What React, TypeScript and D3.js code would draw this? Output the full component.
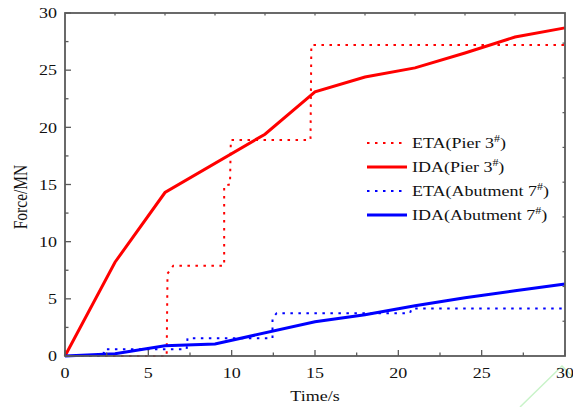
import React from "react";
import * as d3 from "d3";

const etaPierT = [0, 6.1, 6.15, 6.5, 9.55, 9.55, 9.9, 9.95, 14.73, 14.78, 30];
const etaPierV = [0, 0, 7.2, 7.9, 7.9, 14.9, 15.0, 18.9, 18.9, 27.2, 27.2];
const idaPierT = [0, 3, 6, 12, 15, 18, 21, 24, 27, 30];
const idaPierV = [0, 8.2, 14.3, 19.4, 23.1, 24.4, 25.2, 26.5, 27.9, 28.7];
const etaAbutT = [0, 2.3, 2.35, 7.3, 7.35, 12.45, 12.45, 12.7, 20.7, 20.8, 30];
const etaAbutV = [0, 0, 0.6, 0.6, 1.55, 1.55, 3.3, 3.75, 3.75, 4.15, 4.15];
const idaAbutT = [0, 3, 6, 9, 15, 18, 21, 24, 27, 30];
const idaAbutV = [0, 0.2, 0.9, 1.05, 3.0, 3.6, 4.4, 5.1, 5.7, 6.3];

const xTicks = [0, 5, 10, 15, 20, 25, 30];
const yTicks = [0, 5, 10, 15, 20, 25, 30];
const legendNames = ["ETA(Pier 3", "IDA(Pier 3", "ETA(Abutment 7", "IDA(Abutment 7"];

const W = 573, H = 407;
const M = { left: 65, right: 565, top: 13, bottom: 356 };
const FONT = "'Liberation Serif', 'Times New Roman', serif";
const SX = 1.2;

export default function App() {
  const x = d3.scaleLinear().domain([0, 30]).range([M.left, M.right]);
  const y = d3.scaleLinear().domain([0, 30]).range([M.bottom, M.top]);
  const yRight = d3.scaleLinear().domain([0, 29.6]).range([M.bottom, M.top]);
  const line = d3.line<[number, number]>().x(d => x(d[0])).y(d => y(d[1]));
  const zip = (t: number[], v: number[]) => t.map((tt, i) => [tt, v[i]] as [number, number]);

  const series = [
    { d: zip(etaPierT, etaPierV), color: "#ff0000", dotted: true },
    { d: zip(idaPierT, idaPierV), color: "#ff0000", dotted: false },
    { d: zip(etaAbutT, etaAbutV), color: "#0000ff", dotted: true },
    { d: zip(idaAbutT, idaAbutV), color: "#0000ff", dotted: false },
  ];

  const minorX = d3.range(2.5, 30, 5);
  const minorY = d3.range(2.5, 30, 5);
  const topTicks = d3.range(3, 30, 3);
  const rightTicks = d3.range(3, 29, 3);
  const axisColor = "#5a5a5a";

  const legendY0 = 143;
  const legendStep = 24;

  return (
    <svg width={W} height={H} style={{ position: "absolute", left: 0, top: 0, background: "#fff" }}
      fontFamily={FONT}>
      <rect x={0} y={0} width={W} height={H} fill="#fff" />
      {/* faint watermark */}
      <polyline points="520,407 562,366 573,377" fill="none" stroke="#c9f3c9" strokeWidth={1.5} />

      {series.map((s, i) => (
        <path key={i} d={line(s.d) || ""} fill="none" stroke={s.color}
          strokeWidth={s.dotted ? 2 : 3}
          strokeDasharray={s.dotted ? "2.5 5.5" : undefined}
          strokeLinejoin="miter" />
      ))}

      {/* frame */}
      <rect x={M.left} y={M.top} width={M.right - M.left} height={M.bottom - M.top}
        fill="none" stroke={axisColor} strokeWidth={1.8} />

      {xTicks.map(t => (
        <line key={"xb" + t} x1={x(t)} x2={x(t)} y1={M.bottom} y2={M.bottom - 6} stroke={axisColor} strokeWidth={1.3} />
      ))}
      {minorX.map(t => (
        <line key={"xm" + t} x1={x(t)} x2={x(t)} y1={M.bottom} y2={M.bottom - 3.5} stroke={axisColor} strokeWidth={1.3} />
      ))}
      {yTicks.map(t => (
        <line key={"yl" + t} x1={M.left} x2={M.left + 6} y1={y(t)} y2={y(t)} stroke={axisColor} strokeWidth={1.3} />
      ))}
      {minorY.map(t => (
        <line key={"ym" + t} x1={M.left} x2={M.left + 3.5} y1={y(t)} y2={y(t)} stroke={axisColor} strokeWidth={1.3} />
      ))}
      {topTicks.map(t => (
        <line key={"xt" + t} x1={x(t)} x2={x(t)} y1={M.top} y2={M.top + 2.5} stroke={axisColor} strokeWidth={1.2} />
      ))}
      {rightTicks.map(t => (
        <line key={"yr" + t} x1={M.right} x2={M.right - 2.5} y1={yRight(t)} y2={yRight(t)} stroke={axisColor} strokeWidth={1.2} />
      ))}

      {xTicks.map(t => (
        <g key={"xl" + t} transform={`translate(${x(t)},378) scale(${SX},1)`}>
          <text textAnchor="middle" fontSize={15} fill="#111">{t}</text>
        </g>
      ))}
      {yTicks.map(t => (
        <g key={"yl2" + t} transform={`translate(57,${y(t)}) scale(${SX},1)`}>
          <text dy="0.35em" textAnchor="end" fontSize={15} fill="#111">{t}</text>
        </g>
      ))}

      <g transform={`translate(${(M.left + M.right) / 2},401) scale(${SX},1)`}>
        <text textAnchor="middle" fontSize={15} fill="#111">Time/s</text>
      </g>
      <g transform={`translate(27,197) scale(${SX},1) rotate(-90)`}>
        <text textAnchor="middle" fontSize={15.5} fill="#111">Force/MN</text>
      </g>

      {series.map((s, i) => {
        const ly = legendY0 + i * legendStep;
        return (
          <g key={"lg" + i}>
            <line x1={367} x2={407} y1={ly} y2={ly} stroke={s.color}
              strokeWidth={s.dotted ? 2 : 3}
              strokeDasharray={s.dotted ? "2.5 5.5" : undefined} />
            <g transform={`translate(412,${ly}) scale(${SX},1)`}>
              <text dy="0.35em" fontSize={15} fill="#111">
                {legendNames[i]}
                <tspan fontSize={10} dy="-6">#</tspan>
                <tspan dy="6">)</tspan>
              </text>
            </g>
          </g>
        );
      })}
    </svg>
  );
}
